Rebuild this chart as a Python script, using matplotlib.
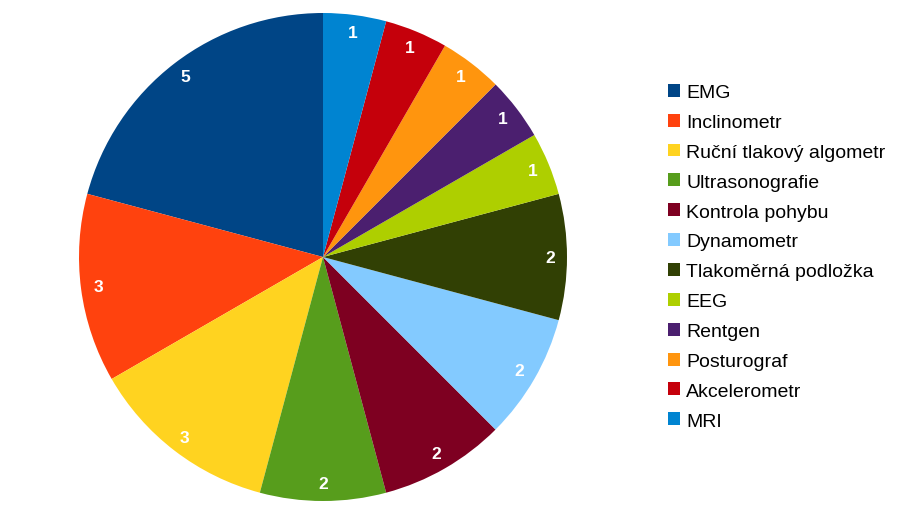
import matplotlib
matplotlib.use("Agg")
import matplotlib.pyplot as plt
from matplotlib.patches import Patch

plt.rcParams['font.family'] = ['Liberation Sans', 'DejaVu Sans']

labels = ["EMG", "Inclinometr", "Ruční tlakový algometr", "Ultrasonografie",
          "Kontrola pohybu", "Dynamometr", "Tlakoměrná podložka", "EEG",
          "Rentgen", "Posturograf", "Akcelerometr", "MRI"]
values = [5, 3, 3, 2, 2, 2, 2, 1, 1, 1, 1, 1]
colors = ["#004586", "#ff420e", "#ffd320", "#579d1c", "#7e0021", "#83caff",
          "#314004", "#aecf00", "#4b1f6f", "#ff950e", "#c5000b", "#0084d1"]

fig = plt.figure(figsize=(9.07, 5.10), dpi=100)
ax = fig.add_axes([79 / 907, 8 / 510, 488 / 907, 488 / 510])

wedges, texts = ax.pie(values, colors=colors, startangle=90, counterclock=True,
                       labels=[str(v) for v in values], labeldistance=0.93,
                       wedgeprops=dict(linewidth=0))
for t in texts:
    t.set_color("white")
    t.set_fontsize(12.5)
    t.set_fontweight("bold")
    t.set_ha("center")
    t.set_va("center")
ax.set_xlim(-1, 1)
ax.set_ylim(-1, 1)
ax.set_aspect("equal")
ax.axis("off")

handles = [Patch(facecolor=c, edgecolor="none") for c in colors]
fig.legend(handles, labels, loc="upper left", bbox_to_anchor=(660 / 907, 1 - 77 / 510),
           frameon=False, fontsize=14, handlelength=0.65, handleheight=0.65,
           handletextpad=0.3, labelspacing=0.645, borderaxespad=0)

fig.savefig("out.png", dpi=100, facecolor="white")
